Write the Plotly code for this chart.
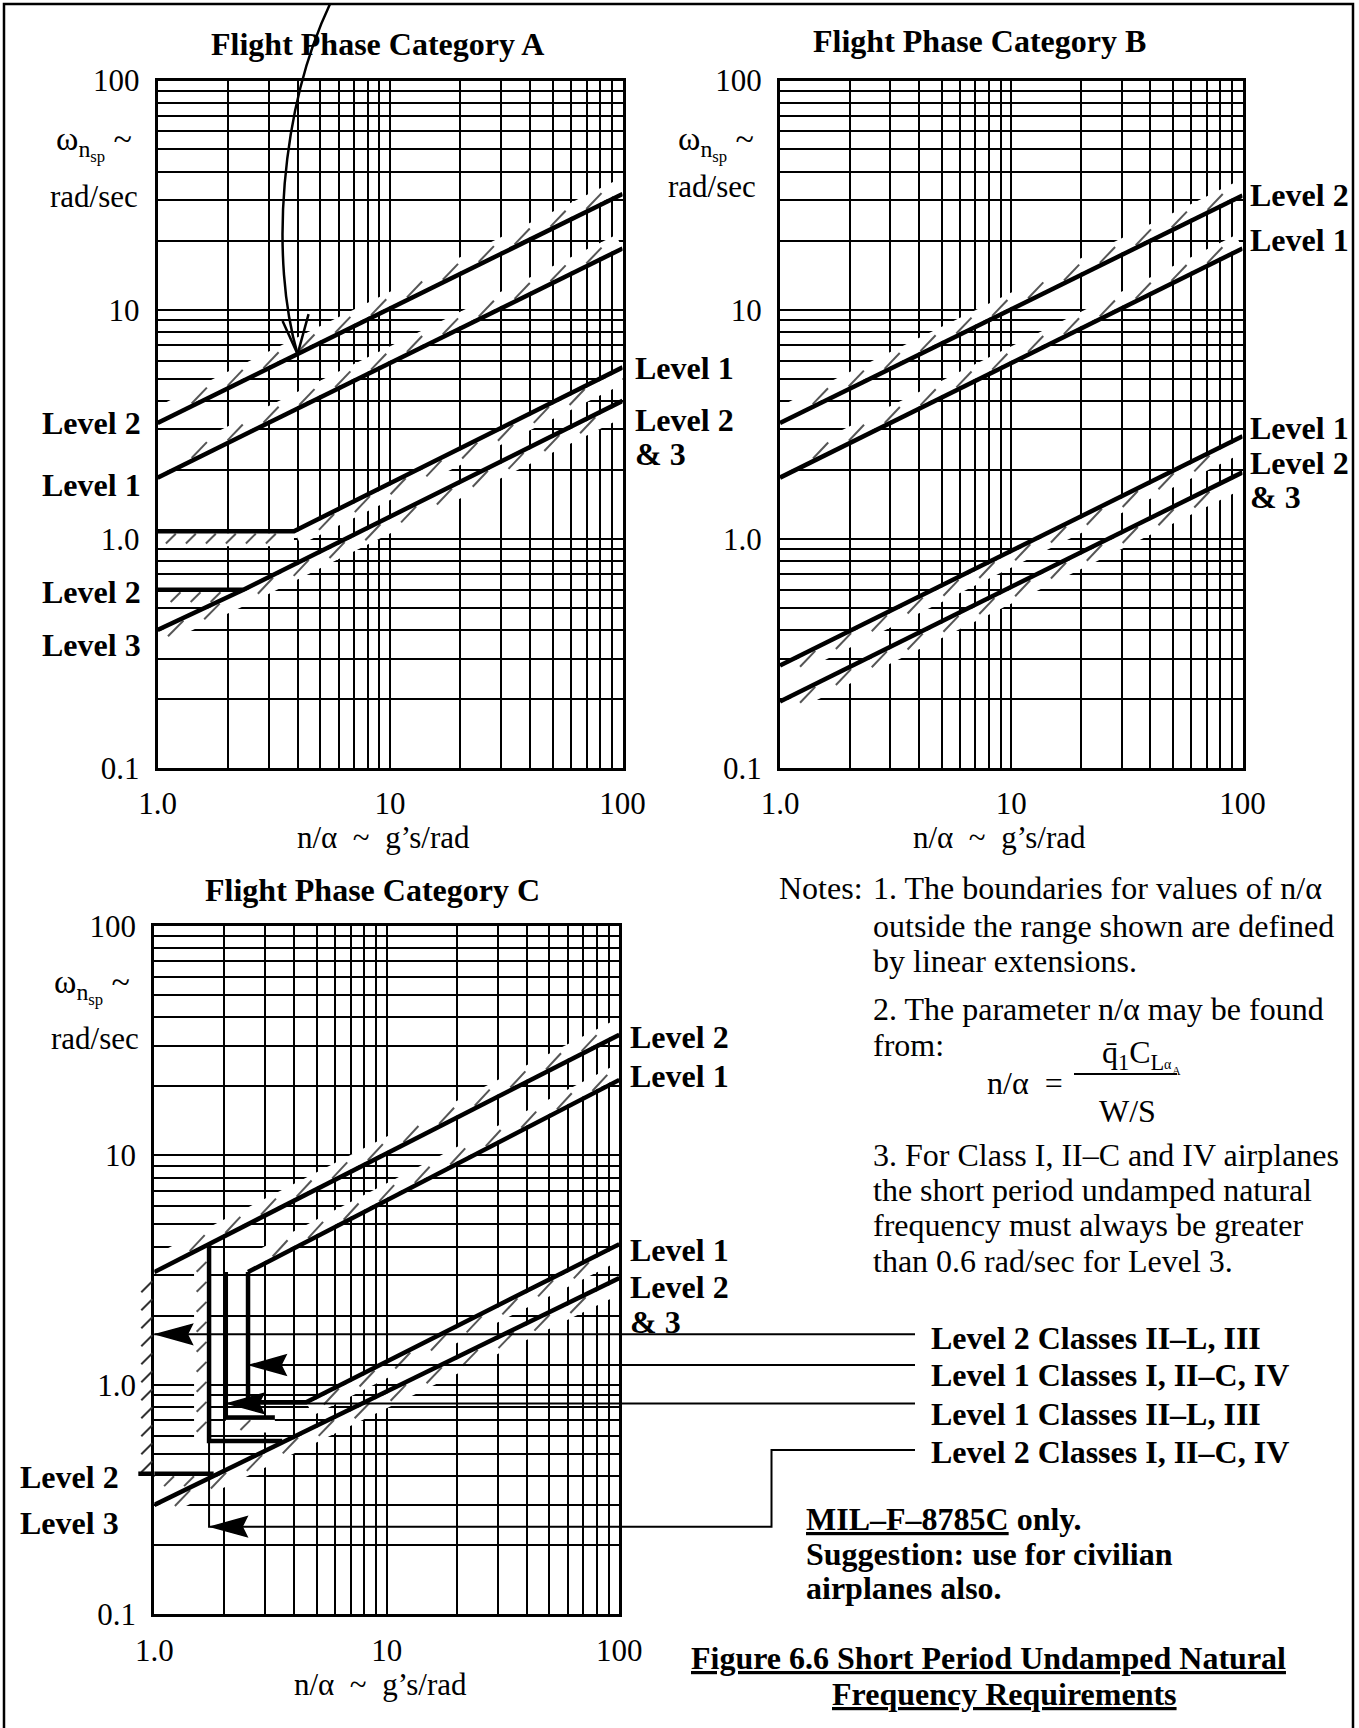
import math
import plotly.graph_objects as go

W, H = 1359, 1728
FONT = "Liberation Serif"

# ---------------- values ----------------
x_ticks = [1, 10, 100]
x_tick_text = ["1.0", "10", "100"]
y_ticks = [0.1, 1, 10, 100]
y_tick_text = ["0.1", "1.0", "10", "100"]
x_minor = [2, 3, 4, 5, 6, 7, 8, 9, 20, 30, 40, 50, 60, 70, 80, 90]
y_minor = [0.2, 0.3, 0.4, 0.5, 0.6, 0.7, 0.8, 0.9,
           2, 3, 4, 5, 6, 7, 8, 9, 20, 30, 40, 50, 60, 70, 80, 90]

# Flight Phase Category A  (n/alpha, omega)
A_L2_up_x = [1.0, 100.0];        A_L2_up_y = [3.2, 32.0]
A_L1_up_x = [1.0, 100.0];        A_L1_up_y = [1.85, 18.5]
A_L1_lo_x = [1.0, 3.86, 100.0];  A_L1_lo_y = [1.08, 1.08, 5.6]
A_L2_lo_x = [1.0, 2.34, 100.0];  A_L2_lo_y = [0.60, 0.60, 4.0]
A_L3_x = [1.0, 2.34];            A_L3_y = [0.40, 0.60]

# Flight Phase Category B
B_L2_up_x = [1.0, 100.0];  B_L2_up_y = [3.2, 31.5]
B_L1_up_x = [1.0, 100.0];  B_L1_up_y = [1.85, 18.5]
B_L1_lo_x = [1.0, 100.0];  B_L1_lo_y = [0.28, 2.8]
B_L2_lo_x = [1.0, 100.0];  B_L2_lo_y = [0.195, 1.95]

# Flight Phase Category C
C_L2_up_x = [1.0, 100.0];               C_L2_up_y = [3.1, 33.5]
C_L1_up_x = [2.53, 100.0];              C_L1_up_y = [3.1, 21.3]
C_L1_lo_x = [2.53, 2.53, 4.5, 100.0];   C_L1_lo_y = [3.1, 0.84, 0.84, 4.1]
C_L1b_x = [2.03, 2.03, 3.3];            C_L1b_y = [3.1, 0.72, 0.72]
C_L2v_x = [1.72, 1.72, 3.55];           C_L2v_y = [4.15, 0.57, 0.57]
C_L2h_x = [1.0, 1.8];                   C_L2h_y = [0.41, 0.41]
C_L23_x = [1.0, 100.0];                 C_L23_y = [0.30, 2.92]
C_side_x = 1.0;                         C_side_y = [3.0, 0.43]   # hatched n/alpha = 1 boundary

# leader arrows of panel C (tip n/alpha, tip omega)
C_lead_n = [1.0, 2.53, 2.03, 1.72]
C_lead_w = [1.66, 1.22, 0.83, 0.241]
legend_labels = ["Level 2 Classes II–L, III", "Level 1 Classes I, II–C, IV",
                 "Level 1 Classes II–L, III", "Level 2 Classes I, II–C, IV"]

# ---------------- geometry (pixels) ----------------
PAN = {
    "A": dict(x0=157.6, x1=622.6, top=80.5, bot=768.0, xa="x", ya="y"),
    "B": dict(x0=780.0, x1=1242.5, top=80.5, bot=768.0, xa="x2", ya="y2"),
    "C": dict(x0=154.3, x1=619.3, top=925.7, bot=1614.4, xa="x3", ya="y3"),
}


def to_px(p, x, y):
    g = PAN[p]
    u = g["x0"] + math.log10(x) / 2.0 * (g["x1"] - g["x0"])
    v = g["bot"] - (math.log10(y) + 1.0) / 3.0 * (g["bot"] - g["top"])
    return u, v


def from_px(p, u, v):
    g = PAN[p]
    x = 10 ** ((u - g["x0"]) / (g["x1"] - g["x0"]) * 2.0)
    y = 10 ** ((g["bot"] - v) / (g["bot"] - g["top"]) * 3.0 - 1.0)
    return x, y


def pap(u, v):
    return u / W, 1 - v / H


def seg_hatch(p, xa, ya, xb, yb, side, off=8.5, band_gap=2.5):
    ua, va = to_px(p, xa, ya)
    ub, vb = to_px(p, xb, yb)
    du, dv = ub - ua, vb - va
    L = math.hypot(du, dv)
    du, dv = du / L, dv / L
    nu, nv = dv * side, -du * side
    band = [(ua + nu * off, va + nv * off), (ub + nu * off, vb + nv * off)]
    theta = math.degrees(math.atan2(-dv, du))
    if abs(theta) < 5 or abs(abs(theta) - 90) < 5:
        a, spacing, tlen = 45.0, 20.0, 14.0
    else:
        a, spacing, tlen = theta + 20.0, 40.0, 22.0
    tu, tv = math.cos(math.radians(a)), -math.sin(math.radians(a))
    if tu * nu + tv * nv < 0:
        tu, tv = -tu, -tv
    ticks = []
    n = int((L - 10) // spacing)
    if n > 0:
        start = (L - (n - 1) * spacing) / 2
        for k in range(n):
            s = start + k * spacing
            su, sv = ua + du * s + nu * band_gap, va + dv * s + nv * band_gap
            ticks.append(((su, sv), (su + tu * tlen, sv + tv * tlen)))
    return band, ticks


# boundaries: (panel, x, y, hatch side per segment)
BOUNDS = [
    ("A", A_L2_up_x, A_L2_up_y, [1]),
    ("A", A_L1_up_x, A_L1_up_y, [1]),
    ("A", A_L1_lo_x, A_L1_lo_y, [-1, -1]),
    ("A", A_L2_lo_x, A_L2_lo_y, [-1, -1]),
    ("A", A_L3_x, A_L3_y, [-1]),
    ("B", B_L2_up_x, B_L2_up_y, [1]),
    ("B", B_L1_up_x, B_L1_up_y, [1]),
    ("B", B_L1_lo_x, B_L1_lo_y, [-1]),
    ("B", B_L2_lo_x, B_L2_lo_y, [-1]),
    ("C", C_L2_up_x, C_L2_up_y, [1]),
    ("C", C_L1_up_x, C_L1_up_y, [1]),
    ("C", C_L1_lo_x, C_L1_lo_y, [0, 0, -1]),
    ("C", C_L1b_x, C_L1b_y, [0, -1]),
    ("C", C_L2v_x, C_L2v_y, [-1, 0]),
    ("C", C_L2h_x, C_L2h_y, [-1]),
    ("C", C_L23_x, C_L23_y, [-1]),
]

fig = go.Figure()

for p in ["A", "B", "C"]:
    g = PAN[p]
    bx, by, tx, ty = [], [], [], []
    for (pp, xs, ys, sides) in BOUNDS:
        if pp != p:
            continue
        for i, sd in enumerate(sides):
            if sd == 0:
                continue
            band, ticks = seg_hatch(p, xs[i], ys[i], xs[i + 1], ys[i + 1], sd)
            for (u, v) in band:
                x, y = from_px(p, u, v)
                bx.append(x); by.append(y)
            bx.append(None); by.append(None)
            for (a, b) in ticks:
                for (u, v) in (a, b):
                    x, y = from_px(p, u, v)
                    tx.append(x); ty.append(y)
                tx.append(None); ty.append(None)
    fig.add_trace(go.Scatter(x=bx, y=by, mode="lines", line=dict(color="white", width=13),
                             xaxis=g["xa"], yaxis=g["ya"], hoverinfo="skip", showlegend=False))
    fig.add_trace(go.Scatter(x=tx, y=ty, mode="lines", line=dict(color="#555555", width=2),
                             xaxis=g["xa"], yaxis=g["ya"], hoverinfo="skip", showlegend=False))
    for (pp, xs, ys, sides) in BOUNDS:
        if pp != p:
            continue
        fig.add_trace(go.Scatter(x=xs, y=ys, mode="lines", line=dict(color="black", width=4.5),
                                 xaxis=g["xa"], yaxis=g["ya"], hoverinfo="skip", showlegend=False))

# ---------------- axes ----------------
axcommon = dict(type="log", showline=True, linecolor="black", linewidth=3, mirror=True,
                showgrid=True, gridcolor="black", gridwidth=2, ticks="", zeroline=False,
                automargin=False, fixedrange=True,
                tickfont=dict(family=FONT, size=31, color="black"))
layout_axes = {}
names = {"A": ("xaxis", "yaxis"), "B": ("xaxis2", "yaxis2"), "C": ("xaxis3", "yaxis3")}
for p, (xn, yn) in names.items():
    g = PAN[p]
    xd = [g["x0"] / W, g["x1"] / W]
    yd = [1 - g["bot"] / H, 1 - g["top"] / H]
    layout_axes[xn] = dict(axcommon, domain=xd, range=[0, 2], tickvals=x_ticks, ticktext=x_tick_text,
                           anchor=g["ya"], ticklabelstandoff=6,
                           minor=dict(tickvals=x_minor, showgrid=True, gridcolor="black", gridwidth=1.7))
    layout_axes[yn] = dict(axcommon, domain=yd, range=[-1, 2], tickvals=y_ticks, ticktext=y_tick_text,
                           anchor=g["xa"], ticklabelstandoff=9,
                           minor=dict(tickvals=y_minor, showgrid=True, gridcolor="black", gridwidth=1.7))

shapes = []
annots = []


def line_px(pts, width=2.0, color="black", fill=None, close=False):
    d = ""
    for i, (u, v) in enumerate(pts):
        px_, py_ = pap(u, v)
        d += ("M" if i == 0 else "L") + f"{px_:.5f},{py_:.5f} "
    if close:
        d += "Z"
    sh = dict(type="path", path=d.strip(), xref="paper", yref="paper",
              line=dict(color=color, width=width), layer="above")
    if fill:
        sh["fillcolor"] = fill
    shapes.append(sh)


def txt(t, u, v, size=32, bold=False, xanchor="center", yanchor="middle"):
    x, y = pap(u, v)
    if bold:
        t = "<b>" + t + "</b>"
    annots.append(dict(text=t, x=x, y=y, xref="paper", yref="paper", showarrow=False,
                       xanchor=xanchor, yanchor=yanchor,
                       font=dict(family=FONT, size=size, color="black")))


# page border
line_px([(4, 1728), (4, 4), (1353, 4), (1353, 1728)], width=2.5)

# ---------------- panel C extras ----------------
u1, va_ = to_px("C", C_side_x, C_side_y[0])
_, vb_ = to_px("C", C_side_x, C_side_y[1])
vv = va_ + 6
while vv < vb_:
    line_px([(u1 - 2, vv), (u1 - 13, vv + 11)], width=2.0, color="#333333")
    vv += 18
uL, vL = to_px("C", C_L2h_x[0], C_L2h_y[0])
line_px([(uL - 16, vL), (uL, vL)], width=4.5)

LEG_X = 915
leg_y = [1338, 1375, 1414, 1452]
for i in range(4):
    ut, vt = to_px("C", C_lead_n[i], C_lead_w[i])
    if i < 3:
        line_px([(ut, vt), (LEG_X, vt)], width=2.0)
    else:
        ut0, vt0 = to_px("C", C_L2v_x[1], C_L2v_y[1])
        line_px([(ut0, vt0), (ut, vt), (771.5, vt), (771.5, 1450), (LEG_X, 1450)], width=2.0)
    # solid, slightly notched arrowhead pointing left at the tip
    line_px([(ut + 2, vt), (ut + 38, vt - 10), (ut + 33, vt), (ut + 38, vt + 10)],
            width=1.5, fill="black", close=True)
    txt(legend_labels[i], 929, leg_y[i], size=32, bold=True, xanchor="left")

# ---------------- panel A curved arrow ----------------
xt = 4.0
yt = 10 ** (math.log10(A_L2_up_y[0]) + (math.log10(A_L2_up_y[1]) - math.log10(A_L2_up_y[0]))
            * (math.log10(xt) - math.log10(A_L2_up_x[0])) / (math.log10(A_L2_up_x[1]) - math.log10(A_L2_up_x[0])))
tu, tv = to_px("A", xt, yt)
p0 = pap(330, 4); c1 = pap(280, 110); c2 = pap(270, 260); pt = pap(tu, tv)
shapes.append(dict(type="path", xref="paper", yref="paper", layer="above",
                   path=f"M{p0[0]:.5f},{p0[1]:.5f} C{c1[0]:.5f},{c1[1]:.5f} {c2[0]:.5f},{c2[1]:.5f} {pt[0]:.5f},{pt[1]:.5f}",
                   line=dict(color="black", width=2.5)))
line_px([(tu - 15, tv - 33), (tu, tv), (tu + 11, tv - 40)], width=2.5)

# ---------------- texts ----------------
txt("Flight Phase Category A", 378, 44, size=32, bold=True)
txt("Flight Phase Category B", 979, 41, size=32, bold=True)
txt("Flight Phase Category C", 372, 890, size=32, bold=True)

omega = "ω<sub>n<sub>sp</sub></sub> ~"
for (u, v1, v2, u2) in [(94, 143, 196, 94), (716, 143, 187, 712), (92, 986, 1038, 95)]:
    txt(omega, u, v1, size=34)
    txt("rad/sec", u2, v2, size=31)

for u in [383.5, 999.5]:
    txt("n/α  ~  g’s/rad", u, 837, size=31)
txt("n/α  ~  g’s/rad", 380, 1684, size=31)

for (t, v) in [("Level 2", 423), ("Level 1", 485), ("Level 2", 592), ("Level 3", 645)]:
    txt(t, 143, v, size=32, bold=True, xanchor="right")
for (t, v) in [("Level 1", 368), ("Level 2", 420), ("&amp; 3", 454)]:
    txt(t, 633, v, size=32, bold=True, xanchor="left")
for (t, v) in [("Level 2", 195), ("Level 1", 240), ("Level 1", 428), ("Level 2", 463), ("&amp; 3", 497)]:
    txt(t, 1248, v, size=32, bold=True, xanchor="left")
for (t, v) in [("Level 2", 1037), ("Level 1", 1076), ("Level 1", 1250), ("Level 2", 1287), ("&amp; 3", 1322)]:
    txt(t, 628, v, size=32, bold=True, xanchor="left")
for (t, v) in [("Level 2", 1477), ("Level 3", 1523)]:
    txt(t, 121, v, size=32, bold=True, xanchor="right")

txt("Notes:", 777, 888, size=32, xanchor="left")
notes = [("1. The boundaries for values of n/α", 888),
         ("outside the range shown are defined", 926),
         ("by linear extensions.", 961),
         ("2. The parameter n/α may be found", 1009),
         ("from:", 1045),
         ("3. For Class I, II–C and IV airplanes", 1155),
         ("the short period undamped natural", 1190),
         ("frequency must always be greater", 1225),
         ("than 0.6 rad/sec for Level 3.", 1261)]
for (t, v) in notes:
    txt(t, 871, v, size=32, xanchor="left")

txt("n/α  =", 1025, 1083, size=32)
line_px([(1074, 1074), (1177, 1074)], width=2.0)
txt("q̄<sub>1</sub>C<sub>L</sub>", 1100, 1054, size=32, xanchor="left")
txt("α", 1162, 1064, size=14, xanchor="left")
txt("A", 1170, 1071, size=12, xanchor="left")
txt("W/S", 1127, 1111, size=32)

txt("<u>MIL–F–8785C</u> only.", 804, 1519, size=32, bold=True, xanchor="left")
txt("Suggestion: use for civilian", 804, 1554, size=32, bold=True, xanchor="left")
txt("airplanes also.", 804, 1588, size=32, bold=True, xanchor="left")

txt("<u>Figure 6.6 Short Period Undamped Natural</u>", 988, 1658, size=32, bold=True)
txt("<u>Frequency Requirements</u>", 1004, 1694, size=32, bold=True)

fig.update_layout(width=W, height=H,
                  margin=dict(l=0, r=0, t=0, b=0, pad=0, autoexpand=False),
                  paper_bgcolor="white", plot_bgcolor="white", showlegend=False,
                  shapes=shapes, annotations=annots, **layout_axes)

fig.write_html("out.html", config={"displayModeBar": False, "responsive": False},
               post_script="document.body.style.margin='0';document.body.style.padding='0';"
                           "document.body.style.overflow='hidden';")
